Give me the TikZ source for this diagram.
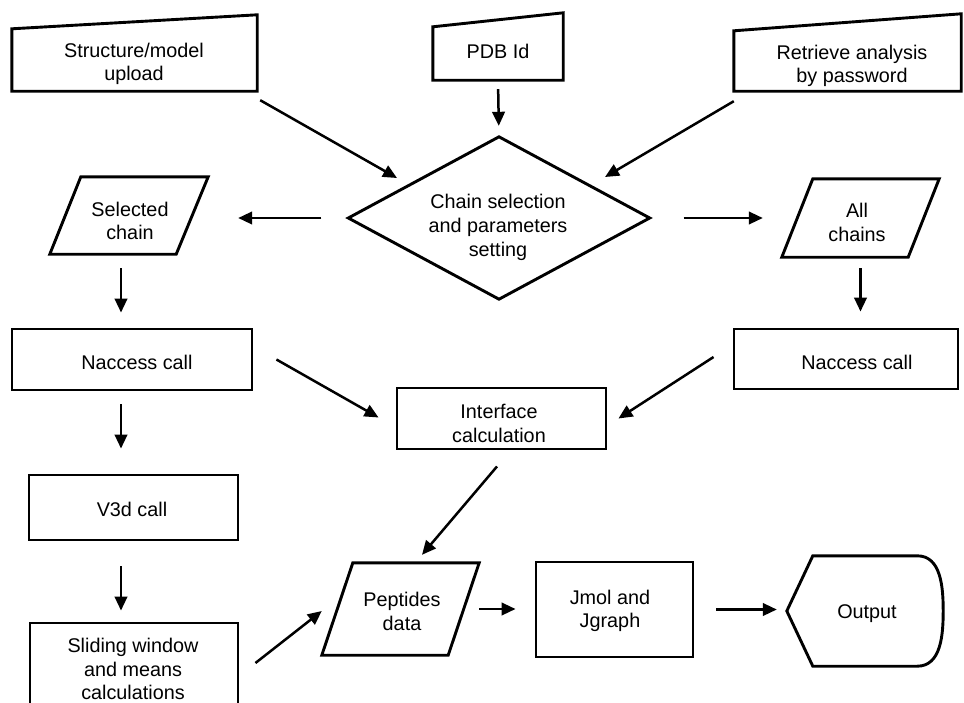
\documentclass[tikz,border=0pt]{standalone}
\usepackage{fontspec}
\setmainfont{Liberation Sans}
\usetikzlibrary{arrows.meta,calc}
\tikzset{
  shp/.style={line width=2.9pt, line join=miter},
  frame/.style={inner sep=0pt},
  txt/.style={inner sep=0pt, align=center, font=\fontsize{19.8pt}{23.7pt}\selectfont},
  arr/.style={line width=2.5pt, -{Triangle[length=14pt,width=12.5pt]}},
}
\begin{document}
\begin{tikzpicture}[x=1pt,y=-1pt]
\clip (0,0) rectangle (964,702);
\fill[white] (0,0) rectangle (964,702);

% top inputs
\node[frame, minimum width=245pt, minimum height=62pt] (up) at (134.5,60) {};
\draw[shp] (up.south west) -- (up.north west) -- ($(up.north east)+(0,-14)$) -- (up.south east) -- cycle;
\node[txt] (upT) at (134,64) {Structure/model\\upload};

\node[frame, minimum width=130pt, minimum height=53pt] (pdb) at (498,53.5) {};
\draw[shp] (pdb.south west) -- (pdb.north west) -- ($(pdb.north east)+(0,-14)$) -- (pdb.south east) -- cycle;
\node[txt] (pdbT) at (498,51) {PDB Id};

\node[frame, minimum width=227pt, minimum height=60pt] (ret) at (847.5,61) {};
\draw[shp] (ret.south west) -- (ret.north west) -- ($(ret.north east)+(0,-17)$) -- (ret.south east) -- cycle;
\node[txt] (retT) at (852,66) {Retrieve analysis\\by password};

% decision
\node[frame, minimum width=301pt, minimum height=162pt] (dia) at (499,218) {};
\draw[shp] (dia.west) -- (dia.north) -- (dia.east) -- (dia.south) -- cycle;
\node[txt] (diaT) at (498,227.5) {Chain selection\\and parameters\\setting};

% parallelograms
\node[frame, minimum width=158pt, minimum height=77pt] (sel) at (129,215.5) {};
\draw[shp] ($(sel.north west)+(31,0)$) -- (sel.north east) -- ($(sel.south east)+(-32,0)$) -- (sel.south west) -- cycle;
\node[txt] (selT) at (130,221) {Selected\\chain};

\node[frame, minimum width=157pt, minimum height=78pt] (all) at (860.5,218) {};
\draw[shp] ($(all.north west)+(31,0)$) -- (all.north east) -- ($(all.south east)+(-31,0)$) -- (all.south west) -- cycle;
\node[txt] (allT) at (857,222.5) {All\\chains};

% process boxes
\node[frame, draw, shp, minimum width=240pt, minimum height=61pt] (nacL) at (132,359.5) {};
\node[txt] (nacLT) at (137,362.5) {Naccess call};
\node[frame, draw, shp, minimum width=224pt, minimum height=60pt] (nacR) at (846,359) {};
\node[txt] (nacRT) at (857,362) {Naccess call};
\node[frame, draw, shp, minimum width=209pt, minimum height=61pt] (intf) at (501.5,418.5) {};
\node[txt] (intfT) at (499,423.5) {Interface\\calculation};
\node[frame, draw, shp, minimum width=209pt, minimum height=65pt] (v3d) at (133.5,507.5) {};
\node[txt] (v3dT) at (132,509.5) {V3d call};
\node[frame, draw, shp, minimum width=208pt, minimum height=90pt] (slide) at (134,668) {};
\node[txt] (slideT) at (133,669) {Sliding window\\and means\\calculations};

\node[frame, minimum width=157pt, minimum height=92pt] (pep) at (400.5,609) {};
\draw[shp] ($(pep.north west)+(31,0)$) -- (pep.north east) -- ($(pep.south east)+(-31,0)$) -- (pep.south west) -- cycle;
\node[txt] (pepT) at (402,611.5) {Peptides\\data};

\node[frame, draw, shp, minimum width=157pt, minimum height=95pt] (jmol) at (614.5,609.5) {};
\node[txt] (jmolT) at (610,611) {Jmol and\\Jgraph};

\node[frame, minimum width=156pt, minimum height=110pt] (out) at (865,611) {};
\draw[shp] (out.west) -- ($(out.north west)+(26,0)$) -- ($(out.north east)+(-26,0)$)
  to[out=0,in=90] (out.east) to[out=-90,in=0] ($(out.south east)+(-26,0)$)
  -- ($(out.south west)+(26,0)$) -- cycle;
\node[txt] (outT) at (867,614) {Output};

% connectors
\draw[arr] ($(up.south east)+(3,9)$) -- ($(dia)+(-102,-40)$);
\draw[arr, shorten <=9pt, shorten >=11pt] (pdb.south) -- (dia.north);
\draw[arr] ($(ret.south west)+(0,10)$) -- ($(dia)+(106,-41)$);
\draw[arr, shorten <=27pt, shorten >=30pt] (dia.west) -- (dia.west -| sel.east);
\draw[arr, shorten <=34pt, shorten >=19pt] (dia.east) -- (dia.east -| all.west);
\draw[arr] ($(sel.south)+(-8,14)$) -- ($(nacL.north)+(-11,-15)$);
\draw[arr] ($(nacL.south)+(-11,13)$) -- ($(v3d.north)+(-12.5,-25)$);
\draw[arr] ($(v3d.south)+(-12.5,25)$) -- ($(slide.north)+(-13,-11)$);
\draw[arr, shorten <=11pt, shorten >=16pt] (all.south) -- (all.south |- nacR.north);
\draw[arr] ($(nacL.east)+(23,0)$) -- ($(intf.west)+(-17,-1)$);
\draw[arr] ($(nacR.west)+(-19,-2)$) -- ($(intf.east)+(11,0)$);
\draw[arr] ($(intf.south)+(-4.5,16)$) -- ($(pep.north)+(21.5,-8)$);
\draw[arr] ($(slide.east)+(16,-5)$) -- ($(pep.west)+(0,2)$);
\draw[arr, shorten >=19pt] (pep.east) -- (pep.east -| jmol.west);
\draw[arr, shorten <=22pt, shorten >=10pt] (jmol.east) -- (jmol.east -| out.west);
\end{tikzpicture}
\end{document}
